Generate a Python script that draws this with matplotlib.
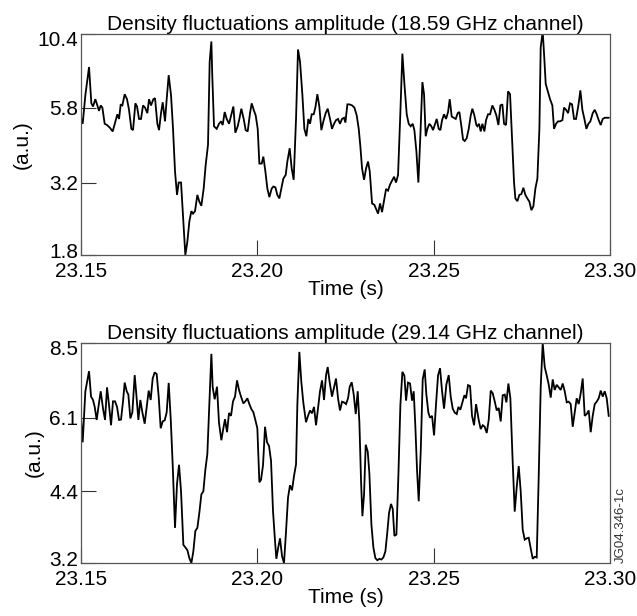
"""
Density fluctuation amplitude, two reflectometer channels (18.59 / 29.14 GHz).
"""
import numpy as np
import matplotlib
matplotlib.use("Agg")
import matplotlib.pyplot as plt
from matplotlib.transforms import ScaledTranslation

plt.rcParams['font.family'] = ['Liberation Sans', 'DejaVu Sans']

T0 = 23.15  # s, start of window

# 18.59 GHz channel: time offset (ms after T0) and amplitude (a.u.)
t_top_ms = [
    0.0, 0.47, 1.23, 2.27, 2.93, 3.40, 4.06, 4.54, 5.10, 5.58, 6.05, 6.71, 7.37, 8.13, 8.98, 9.74,
    10.30, 10.78, 11.25, 11.72, 12.38, 13.04, 13.61, 14.27, 14.75, 15.41, 15.88, 16.45, 17.01, 17.58,
    18.15, 18.81, 19.28, 19.85, 20.51, 20.98, 21.65, 22.12, 22.68, 23.16, 23.82, 24.29, 24.86, 25.52,
    26.09, 26.65, 27.22, 27.69, 28.36, 28.92, 29.58, 30.15, 30.72, 31.29, 31.76, 32.33, 32.99, 33.55,
    34.12, 34.78, 35.35, 36.01, 36.48, 36.96,
    37.2, 37.71, 38.47, 39.13, 39.70, 40.17, 40.74, 41.31, 41.97, 42.63, 43.20, 43.76, 44.43, 44.90,
    45.46, 46.13, 46.69, 47.26, 47.92, 48.40, 48.96, 49.53, 50.10, 50.57, 51.23, 51.70, 52.27, 52.84,
    53.40, 54.07, 54.54, 55.11, 55.67, 56.24, 56.81, 57.37, 58.04, 58.51, 59.17, 59.74, 60.30, 60.97,
    61.53, 62.10, 62.76, 63.33, 63.90, 64.46, 64.94, 65.41, 65.98, 66.45, 67.02, 67.58, 68.15, 68.72,
    69.38, 69.95, 70.61, 71.17, 71.74, 72.31, 72.88, 73.44, 74.01, 74.58,
    74.97, 75.53, 76.10, 76.86, 77.52, 78.18, 78.75, 79.22, 79.69, 80.26, 80.83, 81.39, 81.87, 82.53,
    83.19, 83.76, 84.23, 84.80, 85.36, 86.02, 86.50, 87.06, 87.63, 88.20, 88.77, 89.33, 89.90, 90.56,
    91.13, 91.70, 92.36, 92.92, 93.49, 94.06, 94.53, 95.10, 95.66, 96.23, 96.80, 97.27, 97.74, 98.22,
    98.78, 99.35, 99.82, 100.30, 100.86, 101.43, 101.90, 102.38, 102.94, 103.51, 104.08, 104.55,
    105.12, 105.68, 106.25, 106.82, 107.29, 107.86, 108.33, 108.80, 109.37, 109.94, 110.51, 110.98,
    111.54, 112.11,
    112.40, 112.87, 113.34, 113.81, 114.38, 114.85, 115.42, 115.99, 116.65, 117.22, 117.78, 118.35,
    118.92, 119.48, 119.96, 120.52, 121.09, 121.66, 122.23, 122.79, 123.17, 123.74, 124.30, 124.87,
    125.44, 126.01, 126.57, 127.14, 127.71, 128.27, 128.84, 129.41, 129.98, 130.35, 130.92, 131.30,
    131.77, 132.43, 133.00, 133.66, 134.13, 134.70, 135.27, 135.84, 136.50, 136.97, 137.54, 138.11,
    138.67, 139.24, 139.81, 140.37, 141.04, 141.60, 142.17, 142.74, 143.30, 143.87, 144.44, 145.10,
    145.67, 146.23, 146.80, 147.37, 147.94, 148.50, 149.07, 149.64,
]
amp_top = [
    5.35, 5.1, 6.4, 8.0, 6.0, 5.85, 6.2, 5.95, 5.65, 5.9, 5.8, 5.1, 5.05, 4.95, 4.8, 5.2,
    5.5, 5.3, 5.95, 5.9, 6.45, 6.2, 5.7, 4.9, 4.85, 6.0, 5.85, 5.3, 5.3, 5.9,
    5.8, 5.55, 6.2, 5.9, 6.2, 6.25, 5.1, 4.85, 5.55, 6.05, 5.2, 6.2, 7.5, 6.4,
    4.9, 3.5, 2.9, 3.2, 3.2, 2.47, 1.8, 2.0, 2.35, 2.55, 2.5, 2.55, 2.9, 2.75,
    2.66, 3.05, 3.68, 4.32, 8.35, 9.8,
    7.6, 5.0, 4.9, 5.1, 5.2, 5.05, 5.6, 5.3, 5.1, 5.5, 5.85, 4.75, 5.0, 5.3,
    5.75, 5.3, 4.85, 4.8, 5.55, 6.0, 5.7, 5.45, 4.9, 3.72, 3.72, 3.93, 3.5, 3.05,
    2.85, 3.05, 3.1, 3.08, 2.9, 2.82, 3.05, 3.3, 3.4, 3.78, 4.2, 3.58, 3.27, 5.3,
    9.2, 8.35, 6.45, 4.9, 4.62, 5.3, 5.1, 5.5, 5.5, 5.8, 6.45, 5.85, 4.85, 5.2,
    5.55, 5.75, 5.3, 4.9, 5.1, 5.25, 5.3, 5.1, 5.3, 5.35,
    5.15, 5.95, 5.95, 5.9, 5.8, 5.45, 4.9, 4.25, 3.58, 3.27, 3.58, 3.78, 3.5, 2.71,
    2.68, 2.58, 2.5, 2.71, 2.53, 2.82, 3.04, 3.0, 3.15, 3.25, 3.35, 3.2, 3.4, 5.6,
    8.9, 7.0, 5.5, 5.1, 5.0, 5.1, 4.85, 4.1, 3.2, 4.65, 7.1, 6.45, 4.62, 4.9,
    5.1, 5.0, 4.85, 5.05, 5.3, 4.9, 4.85, 5.25, 5.5, 5.3, 5.6, 6.2,
    5.4, 5.35, 5.3, 5.55, 5.6, 5.0, 4.5, 4.45, 4.55, 4.9, 5.45, 5.75,
    5.45, 5.05,
    5.0, 5.1, 4.8, 5.1, 4.8, 5.25, 5.5, 5.5, 5.9, 5.7, 5.45, 5.05,
    5.9, 5.95, 5.1, 5.05, 6.6, 6.45, 4.5, 3.2, 2.82, 2.76, 2.9, 2.92,
    3.07, 2.9, 2.82, 2.75, 2.57, 2.65, 3.05, 3.3, 4.9, 9.35, 10.6, 8.9,
    7.0, 6.55, 6.2, 5.9, 4.9, 5.1, 5.2, 5.2, 5.25, 5.8, 5.7, 5.55,
    6.0, 5.95, 5.3, 5.3, 5.9, 6.65, 5.7, 5.3, 4.9, 5.1, 5.2, 5.55,
    5.7, 5.5, 5.25, 5.05, 5.3, 5.35, 5.35, 5.35,
]

# 29.14 GHz channel
t_bot_ms = [
    0.0, 0.47, 1.23, 2.27, 2.84, 3.40, 3.88, 4.44, 5.01, 5.58, 6.24, 6.81, 7.37, 7.94, 8.51, 9.07,
    9.64, 10.21, 10.78, 11.34, 11.91, 12.38, 12.95, 13.42, 13.99, 14.56, 15.22, 15.69, 16.26, 16.82,
    17.39, 18.05, 18.62, 19.19, 19.75, 20.32, 20.89, 21.46, 22.02, 22.59, 23.16, 23.73, 24.29, 24.86,
    25.42, 25.99, 26.65, 27.22, 27.79, 28.36, 29.02, 29.58, 30.15, 30.72, 31.29, 31.85, 32.42, 32.99,
    33.55, 34.12, 34.69, 35.25, 35.82, 36.39, 36.96,
    37.34, 37.90, 38.56, 39.13, 39.79, 40.36, 40.83, 41.40, 41.97, 42.53, 43.10, 43.67, 44.24, 44.80,
    45.37, 46.03, 46.60, 47.17, 47.73, 48.30, 48.87, 49.43, 50.00, 50.57, 51.04, 51.61, 52.18, 52.74,
    53.31, 53.88, 54.44, 55.01, 55.39, 55.96, 56.43, 57.00, 57.56, 58.13, 58.70, 59.26, 59.83, 60.40,
    60.97, 61.34, 61.91, 62.48, 63.05, 63.80, 64.37, 64.94, 65.50, 66.07, 66.64, 67.20, 67.77, 68.34,
    68.91, 69.47, 69.95, 70.51, 71.17, 71.74, 72.31, 72.88, 73.44,
    74.02, 74.59, 75.15, 75.72, 76.19, 76.76, 77.33, 77.90, 78.46, 78.94, 79.41, 79.79, 80.26, 80.73,
    81.30, 81.77, 82.34, 82.90, 83.47, 84.04, 84.61, 85.17, 85.74, 86.31, 86.87, 87.35, 87.91, 88.39,
    88.86, 89.43, 89.99, 90.56, 91.13, 91.70, 92.17, 92.73, 93.30, 93.87, 94.34, 94.81, 95.29, 95.76,
    96.33, 96.89, 97.46, 97.93, 98.50, 98.97, 99.54, 100.11, 100.67, 101.24, 101.81, 102.38, 102.94,
    103.60, 104.27, 104.83, 105.40, 105.97, 106.54, 107.01, 107.57, 108.14, 108.71, 109.18, 109.75,
    110.32, 110.88, 111.45, 112.02,
    112.77, 113.34, 113.91, 114.47, 115.04, 115.61, 116.18, 116.74, 117.31, 117.88, 118.44, 119.01,
    119.58, 120.15, 120.62, 121.19, 121.75, 122.32, 122.98, 123.55, 124.12, 124.68, 125.25, 125.82,
    126.38, 126.95, 127.52, 128.09, 128.65, 129.22, 129.79, 130.35, 130.92, 131.49, 132.06, 132.62,
    133.19, 133.76, 134.32, 134.89, 135.46, 136.03, 136.59, 137.16, 137.73, 138.29, 138.86, 139.43,
    139.99, 140.56, 141.13, 141.70, 142.26, 142.83, 143.40, 143.97, 144.53, 145.10, 145.67, 146.23,
    146.80, 147.37, 147.94, 148.50, 149.07, 149.64,
]
amp_bot = [
    6.1, 5.47, 6.86, 7.5, 6.7, 6.6, 6.4, 6.04, 6.45, 6.86, 6.35, 6.04, 6.98, 6.45, 5.9, 6.56,
    6.56, 6.4, 6.04, 6.05, 6.56, 7.13, 6.86, 6.76, 6.08, 6.25, 7.37, 6.76, 6.04, 6.6,
    6.25, 5.94, 6.4, 6.88, 6.6, 7.26, 7.46, 7.4, 6.7, 5.82, 6.0, 6.03, 6.25, 7.12,
    6.1, 4.96, 3.74, 4.55, 4.95, 4.4, 3.47, 3.43, 3.39, 3.27, 3.2, 3.37, 3.69, 3.74,
    4.0, 4.34, 4.4, 4.84, 5.19, 6.51, 8.1,
    6.98, 6.62, 7.0, 5.96, 5.52, 5.82, 6.06, 5.72, 6.23, 6.15, 6.56, 6.7, 7.2, 6.9,
    6.7, 6.5, 6.56, 6.65, 6.48, 6.34, 6.25, 6.04, 5.82, 4.58, 4.63, 4.94, 5.86, 5.47,
    5.38, 5.04, 4.03, 3.53, 3.26, 3.44, 3.57, 3.3, 3.2, 3.68, 4.28, 4.52, 4.42, 4.71,
    4.96, 6.45, 8.17, 7.14, 6.51, 5.98, 6.15, 6.3, 6.22, 6.4, 5.9, 6.35, 6.86, 7.2,
    6.6, 7.36, 7.64, 7.14, 6.7, 6.98, 7.26, 6.65, 6.3,
    6.55, 6.53, 6.48, 6.65, 7.0, 7.14, 6.76, 6.2, 6.86, 5.96, 4.6, 3.94, 4.34, 5.41,
    5.25, 4.76, 3.8, 3.43, 3.27, 3.24, 3.26, 3.25, 3.28, 3.37, 3.68, 4.0, 4.16, 4.07,
    3.61, 3.63, 4.71, 6.45, 7.48, 7.35, 6.58, 7.13, 7.1, 6.58, 6.86, 5.86, 4.82, 4.21,
    5.25, 7.23, 7.56, 6.76, 6.24, 6.1, 6.15, 5.64, 6.48, 7.36, 7.6, 6.86, 6.35,
    7.07, 7.37, 6.7, 6.35, 6.24, 6.2, 6.4, 6.32, 6.53, 6.74, 6.65, 7.05,
    7.02, 6.15, 5.9, 6.48,
    6.04, 5.8, 5.9, 5.86, 5.7, 6.04, 6.88, 6.8, 6.56, 6.3, 6.37, 6.0,
    6.74, 6.76, 6.53, 7.1, 6.65, 5.19, 4.02, 4.48, 4.92, 4.4, 3.71, 3.55,
    3.57, 3.58, 3.42, 3.26, 3.29, 3.28, 4.71, 6.98, 8.5, 7.64, 7.36, 7.07,
    6.67, 7.23, 6.9, 7.06, 6.98, 6.9, 7.1, 6.86, 6.53, 6.55, 6.48, 5.86,
    6.25, 6.65, 6.48, 6.8, 7.26, 6.15, 6.2, 6.3, 5.72, 6.15, 6.48, 6.55,
    6.65, 6.88, 6.7, 6.86, 6.65, 6.15,
]

channels = ["18.59 GHz", "29.14 GHz"]
yticks_top = [1.8, 3.2, 5.8, 10.4]
yticks_bot = [3.2, 4.4, 6.1, 8.5]
xticks = [23.15, 23.20, 23.25, 23.30]

FS = 15
fig = plt.figure(figsize=(6.37, 6.16), dpi=100)
ax1 = fig.add_axes([0.1272, 0.586, 0.8304, 0.3588])
ax2 = fig.add_axes([0.1272, 0.086, 0.8304, 0.3572])

panels = [
    (ax1, t_top_ms, amp_top, yticks_top, channels[0]),
    (ax2, t_bot_ms, amp_bot, yticks_bot, channels[1]),
]
for ax, t_ms, amp, yt, ch in panels:
    t = T0 + np.array(t_ms) / 1000.0
    ax.plot(t, amp, color="black", lw=1.3, solid_joinstyle="miter")
    ax.set_yscale("log")
    ax.set_ylim(yt[0], yt[-1])
    ax.set_xlim(xticks[0], xticks[-1])
    ax.yaxis.set_minor_locator(matplotlib.ticker.NullLocator())
    ax.set_yticks(yt)
    ax.set_yticklabels([f"{v:.1f}" for v in yt])
    ax.set_xticks(xticks)
    ax.set_xticklabels([f"{v:.2f}" for v in xticks])
    ax.tick_params(direction="in", length=11, width=0.8, color="#333333",
                   labelsize=FS, pad=2)
    ax.tick_params(axis="x", pad=5)
    for sp in ax.spines.values():
        sp.set_color("#555555")
        sp.set_linewidth(0.9)
    ax.set_title(f"Density fluctuations amplitude ({ch} channel)", fontsize=FS, pad=3)
    ax.set_xlabel("Time (s)", fontsize=FS, labelpad=-1)
    ax.set_ylabel("(a.u.)", fontsize=FS, labelpad=4)

    # end labels sit slightly inside the axis range, as in the original
    ylabs = ax.get_yticklabels()
    ylabs[0].set_transform(ylabs[0].get_transform()
                           + ScaledTranslation(0, 3 / 72, fig.dpi_scale_trans))
    ylabs[-1].set_transform(ylabs[-1].get_transform()
                            + ScaledTranslation(0, -3 / 72, fig.dpi_scale_trans))

fig.text(0.974, 0.086, "JG04.346-1c", rotation=90, fontsize=9.5, color="#333333",
         ha="center", va="bottom")

plt.savefig("out.png", dpi=100)
plt.close()
